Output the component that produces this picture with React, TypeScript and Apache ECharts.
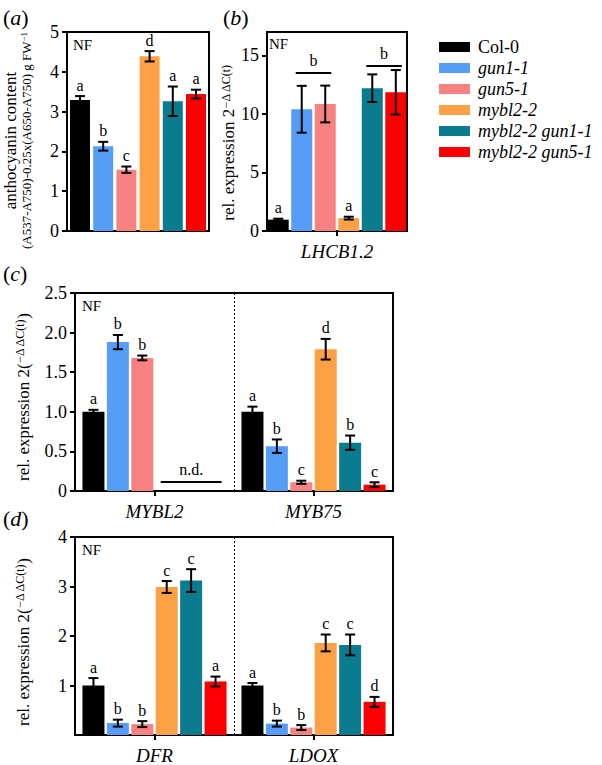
import React, { useEffect, useRef } from "react";
import * as echarts from "echarts";

const FONT = "Liberation Serif, Times New Roman, serif";

// genotypes & colours
const genotypes = ["Col-0", "gun1-1", "gun5-1", "mybl2-2", "mybl2-2 gun1-1", "mybl2-2 gun5-1"];
const genotypeColors = ["#000000", "#559DF7", "#F88181", "#FCA146", "#0B7B8F", "#FA0000"];

// (a) anthocyanin content
const anthoMean = [3.29, 2.13, 1.54, 4.39, 3.26, 3.44];
const anthoSD = [0.1, 0.11, 0.08, 0.13, 0.37, 0.11];
const anthoLetters = ["a", "b", "c", "d", "a", "a"];
const anthoAxis = { max: 5, interval: 1 };

// (b) LHCB1.2
const lhcbGene = ["LHCB1.2"];
const lhcbMean = [0.97, 10.4, 10.85, 1.1, 12.2, 11.85];
const lhcbSD = [0.08, 2.0, 1.57, 0.12, 1.18, 1.9];
const lhcbLetters = ["a", "", "", "a", "", ""];
const lhcbGroups = [
  { cat: 0, from: 1, to: 2, level: 13.5, text: "b" },
  { cat: 0, from: 4, to: 5, level: 14.1, text: "b" },
];
const lhcbAxis = { max: 17, interval: 5 };

// (c) MYBL2 / MYB75
const cGenes = ["MYBL2", "MYB75"];
const mybl2Mean = [1.0, 1.88, 1.68, 0, 0, 0];
const mybl2SD = [0.025, 0.09, 0.03, 0, null, null];
const mybl2Letters = ["a", "b", "b", "", "", ""];
const myb75Mean = [1.0, 0.566, 0.11, 1.79, 0.61, 0.08];
const myb75SD = [0.065, 0.085, 0.02, 0.13, 0.09, 0.03];
const myb75Letters = ["a", "b", "c", "d", "b", "c"];
const cGroups = [{ cat: 0, from: 3, to: 5, level: 0.114, text: "n.d." }];
const cAxis = { max: 2.5, interval: 0.5 };

// (d) DFR / LDOX
const dGenes = ["DFR", "LDOX"];
const dfrMean = [1.0, 0.24, 0.22, 2.99, 3.12, 1.08];
const dfrSD = [0.15, 0.07, 0.06, 0.12, 0.23, 0.1];
const dfrLetters = ["a", "b", "b", "c", "c", "a"];
const ldoxMean = [1.0, 0.23, 0.15, 1.86, 1.82, 0.67];
const ldoxSD = [0.05, 0.06, 0.05, 0.17, 0.21, 0.1];
const ldoxLetters = ["a", "b", "b", "c", "c", "d"];
const dAxis = { max: 4, interval: 1 };

const relExprC = "{t|rel. expression 2(}{u|−Δ ΔC(t)}{t|)}";

const panels: any[] = [
  {
    label: "a", genes: [""], means: [anthoMean], sds: [anthoSD], letters: [anthoLetters], groups: [],
    axis: anthoAxis, grid: { left: 67, top: 32, width: 142, height: 199 }, barWidth: 20, gapFrac: 0.16,
    showX: false, sep: false,
    name: "{t|anthocyanin content}\n{s|(A537-A750)-0.25x(A650-A750) g FW}{v|−1}",
    nameGap: 33, namePad: [0, 18, 0, 0], fmt: (v: number) => String(v), showMin: true,
    labelPos: [3, 6], nfPos: [73, 37],
  },
  {
    label: "b", genes: lhcbGene, means: [lhcbMean], sds: [lhcbSD], letters: [lhcbLetters], groups: lhcbGroups,
    axis: lhcbAxis, grid: { left: 267, top: 32, width: 140, height: 199 }, barWidth: 21, gapFrac: 0.12,
    showX: true, sep: false,
    name: "{t|rel. expression 2}{u|−Δ ΔC(t)}",
    nameGap: 27, namePad: [0, 22, 0, 0], fmt: (v: number) => String(v), showMin: true,
    labelPos: [223, 6], nfPos: [269, 36],
  },
  {
    label: "c", genes: cGenes, means: [mybl2Mean, myb75Mean], sds: [mybl2SD, myb75SD],
    letters: [mybl2Letters, myb75Letters], groups: cGroups,
    axis: cAxis, grid: { left: 75, top: 293, width: 318, height: 198 }, barWidth: 22, gapFrac: 0.11,
    showX: true, sep: true,
    name: relExprC,
    nameGap: 43, namePad: [0, 10, 0, 0], fmt: (v: number) => (v === 0 ? "0" : v.toFixed(1)), showMin: true,
    labelPos: [3, 262], nfPos: [82, 298],
  },
  {
    label: "d", genes: dGenes, means: [dfrMean, ldoxMean], sds: [dfrSD, ldoxSD],
    letters: [dfrLetters, ldoxLetters], groups: [],
    axis: dAxis, grid: { left: 75, top: 537, width: 318, height: 199 }, barWidth: 22, gapFrac: 0.11,
    showX: true, sep: true,
    name: relExprC,
    nameGap: 43, namePad: [0, 12, 0, 0], fmt: (v: number) => String(v), showMin: false,
    labelPos: [3, 507], nfPos: [82, 542],
  },
];

const blackLine = { stroke: "#000", lineWidth: 2 };

function buildOption() {
  const grids: any[] = [];
  const xAxes: any[] = [];
  const yAxes: any[] = [];
  const series: any[] = [];
  const graphics: any[] = [];

  panels.forEach((p, pi) => {
    const period = p.barWidth * (1 + p.gapFrac);
    grids.push({
      ...p.grid,
      show: true,
      borderColor: "#000",
      borderWidth: 2,
      backgroundColor: "transparent",
      containLabel: false,
    });
    xAxes.push({
      type: "category",
      gridIndex: pi,
      data: p.genes,
      axisLine: { show: true, lineStyle: { color: "#000", width: 2 } },
      axisTick: { show: p.showX, alignWithLabel: true, length: 5, lineStyle: { color: "#000", width: 2 } },
      axisLabel: {
        show: p.showX,
        margin: 11,
        color: "#000",
        fontFamily: FONT,
        fontSize: 19,
        fontStyle: "italic",
        interval: 0,
      },
      splitLine: {
        show: p.sep,
        interval: 0,
        lineStyle: { color: "#000", width: 1, type: [2, 2] },
      },
    });
    yAxes.push({
      type: "value",
      gridIndex: pi,
      min: 0,
      max: p.axis.max,
      interval: p.axis.interval,
      axisLine: { show: true, lineStyle: { color: "#000", width: 2 } },
      axisTick: { show: true, length: 5, lineStyle: { color: "#000", width: 2 } },
      axisLabel: {
        color: "#000",
        fontFamily: FONT,
        fontSize: 18,
        margin: 8,
        formatter: p.fmt,
        showMinLabel: p.showMin,
        showMaxLabel: p.axis.max % p.axis.interval < 1e-9,
      },
      splitLine: { show: false },
      name: p.name,
      nameLocation: "middle",
      nameRotate: 90,
      nameGap: p.nameGap,
      nameTextStyle: {
        color: "#000",
        fontFamily: FONT,
        padding: p.namePad,
        rich: {
          t: { fontSize: 17, fontFamily: FONT, color: "#000", lineHeight: 18 },
          s: { fontSize: 13, fontFamily: FONT, color: "#000", lineHeight: 15 },
          u: { fontSize: 12, fontFamily: FONT, color: "#000", verticalAlign: "top", lineHeight: 18 },
          v: { fontSize: 9, fontFamily: FONT, color: "#000", verticalAlign: "top", lineHeight: 15 },
        },
      },
    });

    // bars
    genotypes.forEach((g, gi) => {
      series.push({
        type: "bar",
        name: g,
        xAxisIndex: pi,
        yAxisIndex: pi,
        data: p.means.map((m: number[]) => m[gi]),
        barWidth: p.barWidth,
        barGap: `${p.gapFrac * 100}%`,
        itemStyle: { color: genotypeColors[gi] },
        silent: true,
        z: 2,
      });
    });

    // error bars + significance letters
    const items: any[] = [];
    p.means.forEach((m: number[], c: number) =>
      m.forEach((v: number, gi: number) =>
        items.push({ c, gi, v, sd: p.sds[c][gi], letter: p.letters[c][gi] })
      )
    );
    series.push({
      type: "custom",
      xAxisIndex: pi,
      yAxisIndex: pi,
      silent: true,
      z: 5,
      data: items.map((it) => [it.c, it.v + (it.sd ?? 0)]),
      renderItem: (params: any, api: any) => {
        const it = items[params.dataIndex];
        const base = api.coord([it.c, it.v]);
        const x = base[0] + (it.gi - 2.5) * period;
        const children: any[] = [];
        let topY = base[1];
        if (it.sd != null) {
          const yt = api.coord([it.c, it.v + it.sd])[1];
          const yb = api.coord([it.c, Math.max(0, it.v - it.sd)])[1];
          children.push({ type: "line", shape: { x1: x, y1: yt, x2: x, y2: yb }, style: blackLine });
          children.push({ type: "line", shape: { x1: x - 5, y1: yt, x2: x + 5, y2: yt }, style: blackLine });
          children.push({ type: "line", shape: { x1: x - 5, y1: yb, x2: x + 5, y2: yb }, style: blackLine });
          topY = yt;
        }
        if (it.letter) {
          children.push({
            type: "text",
            x,
            y: topY - 3,
            style: {
              text: it.letter,
              fill: "#000",
              font: `16px ${FONT}`,
              align: "center",
              verticalAlign: "bottom",
              textAlign: "center",
              textVerticalAlign: "bottom",
            },
          });
        }
        return { type: "group", children };
      },
    });

    // group annotations
    if (p.groups.length) {
      series.push({
        type: "custom",
        xAxisIndex: pi,
        yAxisIndex: pi,
        silent: true,
        z: 5,
        data: p.groups.map((g: any) => [g.cat, g.level]),
        renderItem: (params: any, api: any) => {
          const g = p.groups[params.dataIndex];
          const base = api.coord([g.cat, g.level]);
          const x1 = base[0] + (g.from - 2.5) * period - 6;
          const x2 = base[0] + (g.to - 2.5) * period + 6;
          return {
            type: "group",
            children: [
              { type: "line", shape: { x1, y1: base[1], x2, y2: base[1] }, style: blackLine },
              {
                type: "text",
                x: (x1 + x2) / 2,
                y: base[1] - 4,
                style: {
                  text: g.text,
                  fill: "#000",
                  font: `16px ${FONT}`,
                  align: "center",
                  verticalAlign: "bottom",
                  textAlign: "center",
                  textVerticalAlign: "bottom",
                },
              },
            ],
          };
        },
      });
    }

    // panel label and NF tag
    graphics.push({
      type: "text",
      left: p.labelPos[0],
      top: p.labelPos[1],
      style: {
        text: `{p|(}{i|${p.label}}{p|)}`,
        fill: "#000",
        rich: {
          p: { fontSize: 22, fontFamily: FONT, fill: "#000", color: "#000" },
          i: { fontSize: 22, fontFamily: FONT, fontStyle: "italic", fill: "#000", color: "#000" },
        },
      },
    });
    graphics.push({
      type: "text",
      left: p.nfPos[0],
      top: p.nfPos[1],
      style: { text: "NF", fill: "#000", font: `15px ${FONT}` },
    });
  });

  return {
    animation: false,
    textStyle: { fontFamily: FONT },
    grid: grids,
    xAxis: xAxes,
    yAxis: yAxes,
    series,
    graphic: graphics,
    legend: {
      orient: "vertical",
      left: 434,
      top: 33,
      itemWidth: 31,
      itemHeight: 10,
      itemGap: 3,
      icon: "rect",
      selectedMode: false,
      data: genotypes,
      formatter: (name: string) => (name === "Col-0" ? `{n|${name}}` : `{i|${name}}`),
      textStyle: {
        color: "#000",
        fontFamily: FONT,
        fontSize: 18,
        rich: {
          n: { fontSize: 18, fontFamily: FONT, color: "#000", padding: [0, 0, 0, 3] },
          i: { fontSize: 18, fontFamily: FONT, fontStyle: "italic", color: "#000", padding: [0, 0, 0, 3] },
        },
      },
    },
  };
}

export default function App() {
  const ref = useRef<HTMLDivElement>(null);
  useEffect(() => {
    document.body.style.margin = "0";
    const chart = echarts.init(ref.current!, null, { renderer: "svg" });
    chart.setOption(buildOption() as any);
    return () => chart.dispose();
  }, []);
  return <div ref={ref} style={{ width: 602, height: 765 }} />;
}
